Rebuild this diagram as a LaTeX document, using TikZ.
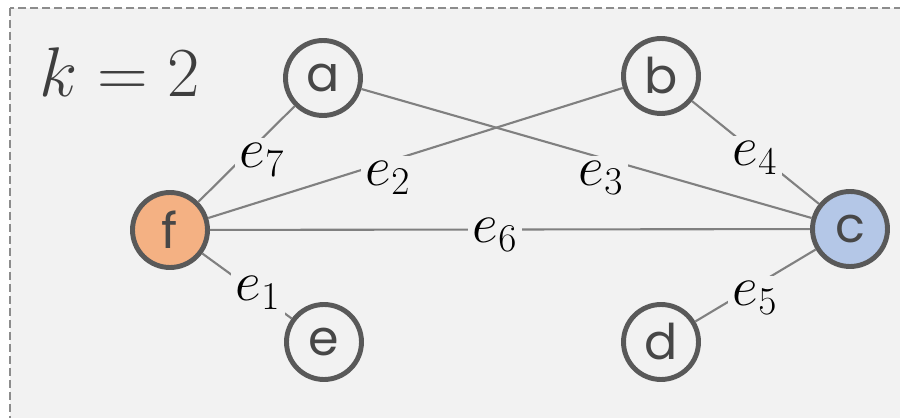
\RequirePackage{fix-cm}
\documentclass[tikz,border=0pt]{standalone}
\usepackage{fontspec}
\newfontfamily\nodefont{Poppins}
\usetikzlibrary{positioning}
\definecolor{bggray}{HTML}{F2F2F2}
\definecolor{ringgray}{HTML}{595959}
\definecolor{edgegray}{HTML}{808080}
\definecolor{fillorange}{HTML}{F4B183}
\definecolor{fillblue}{HTML}{B4C7E7}

\begin{document}
\begin{tikzpicture}[
  x=0.02cm, y=-0.02cm,
  vertex/.style={circle, draw=ringgray, line width=2.8pt, fill=bggray,
                 minimum size=1.5cm, inner sep=0pt,
                 font=\nodefont\fontsize{28}{28}\selectfont, text=ringgray!80!black},
  edge/.style={draw=edgegray, line width=1.2pt},
  lbl/.style={fill=bggray, inner sep=3pt, font=\fontsize{32}{32}\selectfont}
]
\useasboundingbox (0,0) rectangle (900,418);
\fill[white] (0,0) rectangle (900,418);
\draw[fill=bggray, draw=gray!90, line width=1.2pt, dash pattern=on 0.16cm off 0.08cm]
  (10,8) rectangle (910,430);

\node (klabel) at (120,72) {\fontsize{40}{40}\selectfont\color{ringgray!70!black}$k=2$};

\node[vertex] (a) at (323,78) {a};
\node[vertex] (b) at (661,76) {b};
\node[vertex, fill=fillblue] (c) at (850,229) {c};
\node[vertex] (d) at (661,342) {d};
\node[vertex] (e) at (324,342) {e};
\node[vertex, fill=fillorange] (f) at (170,230) {f};

\draw[edge] (f) -- (a);
\draw[edge] (f) -- (b);
\draw[edge] (a) -- (c);
\draw[edge] (f) -- (c);
\draw[edge] (b) -- (c);
\draw[edge] (d) -- (c);
\draw[edge] (f) -- (e);

\node[lbl] (l7) at (262,160) {$e_7$};
\node[lbl] (l2) at (388,178) {$e_2$};
\node[lbl] (l3) at (601,178) {$e_3$};
\node[lbl] (l6) at (495,235) {$e_6$};
\node[lbl] (l4) at (755,158) {$e_4$};
\node[lbl] (l5) at (755,298) {$e_5$};
\node[lbl] (l1) at (258,293) {$e_1$};
\end{tikzpicture}
\end{document}
